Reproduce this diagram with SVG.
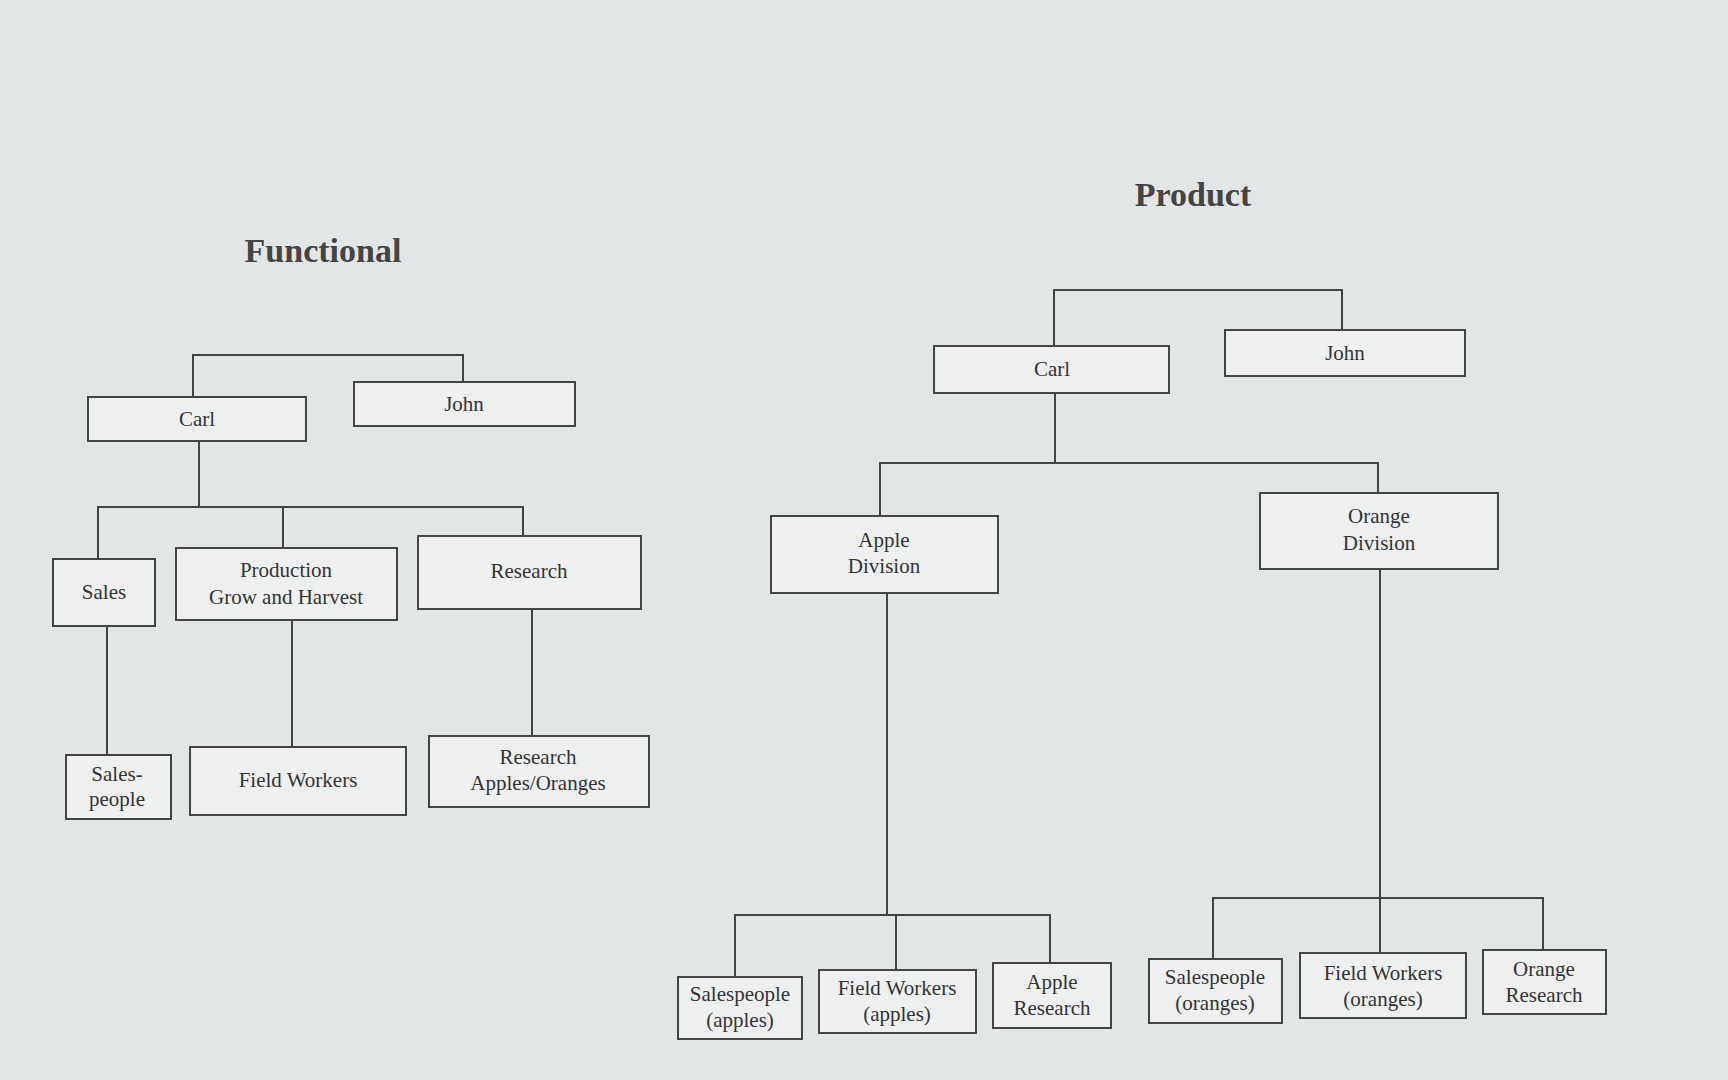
<svg xmlns="http://www.w3.org/2000/svg" width="1728" height="1080" viewBox="0 0 1728 1080">
<style>
.b{fill:#eef0f0;stroke:#444;stroke-width:2}
.t{font-family:"Liberation Serif",serif;font-size:21px;fill:#333;text-anchor:middle}
.h{font-family:"Liberation Serif",serif;font-size:34px;font-weight:bold;fill:#444;text-anchor:middle}
#conn path{fill:none;stroke:#444;stroke-width:2}
</style>
<rect width="1728" height="1080" fill="#e3e6e6"/>
<text class="h" x="323" y="262">Functional</text>
<text class="h" x="1193" y="206">Product</text>
<g id="conn">
<path d="M193 397V355H463V382"/>
<path d="M199 441V507M98 559V507H523V537M283 507V548"/>
<path d="M107 626V755M292 620V747M532 609V736"/>
<path d="M1054 346V290H1342V330"/>
<path d="M1055 393V463M880 516V463H1378V493"/>
<path d="M887 593V915M735 977V915H1050V963M896 915V970"/>
<path d="M1380 569V953M1213 959V898H1543V950"/>
</g>
<g id="f-carl"><rect class="b" x="88" y="397" width="218" height="44"/><text class="t" x="197" y="426">Carl</text></g>
<g id="f-john"><rect class="b" x="354" y="382" width="221" height="44"/><text class="t" x="464" y="411">John</text></g>
<g id="f-sales"><rect class="b" x="53" y="559" width="102" height="67"/><text class="t" x="104" y="599">Sales</text></g>
<g id="f-prod"><rect class="b" x="176" y="548" width="221" height="72"/><text class="t" x="286" y="577">Production</text><text class="t" x="286" y="604">Grow and Harvest</text></g>
<g id="f-research"><rect class="b" x="418" y="536" width="223" height="73"/><text class="t" x="529" y="578">Research</text></g>
<g id="f-salespeople"><rect class="b" x="66" y="755" width="105" height="64"/><text class="t" x="117" y="781">Sales-</text><text class="t" x="117" y="806">people</text></g>
<g id="f-field"><rect class="b" x="190" y="747" width="216" height="68"/><text class="t" x="298" y="787">Field Workers</text></g>
<g id="f-resao"><rect class="b" x="429" y="736" width="220" height="71"/><text class="t" x="538" y="764">Research</text><text class="t" x="538" y="790">Apples/Oranges</text></g>
<g id="p-carl"><rect class="b" x="934" y="346" width="235" height="47"/><text class="t" x="1052" y="376">Carl</text></g>
<g id="p-john"><rect class="b" x="1225" y="330" width="240" height="46"/><text class="t" x="1345" y="360">John</text></g>
<g id="p-apple"><rect class="b" x="771" y="516" width="227" height="77"/><text class="t" x="884" y="547">Apple</text><text class="t" x="884" y="573">Division</text></g>
<g id="p-orange"><rect class="b" x="1260" y="493" width="238" height="76"/><text class="t" x="1379" y="523">Orange</text><text class="t" x="1379" y="550">Division</text></g>
<g id="p-sa"><rect class="b" x="678" y="977" width="124" height="62"/><text class="t" x="740" y="1001">Salespeople</text><text class="t" x="740" y="1027">(apples)</text></g>
<g id="p-fa"><rect class="b" x="819" y="970" width="157" height="63"/><text class="t" x="897" y="995">Field Workers</text><text class="t" x="897" y="1021">(apples)</text></g>
<g id="p-ar"><rect class="b" x="993" y="963" width="118" height="65"/><text class="t" x="1052" y="989">Apple</text><text class="t" x="1052" y="1015">Research</text></g>
<g id="p-so"><rect class="b" x="1149" y="959" width="133" height="64"/><text class="t" x="1215" y="984">Salespeople</text><text class="t" x="1215" y="1010">(oranges)</text></g>
<g id="p-fo"><rect class="b" x="1300" y="953" width="166" height="65"/><text class="t" x="1383" y="980">Field Workers</text><text class="t" x="1383" y="1006">(oranges)</text></g>
<g id="p-or"><rect class="b" x="1483" y="950" width="123" height="64"/><text class="t" x="1544" y="976">Orange</text><text class="t" x="1544" y="1002">Research</text></g>
</svg>
